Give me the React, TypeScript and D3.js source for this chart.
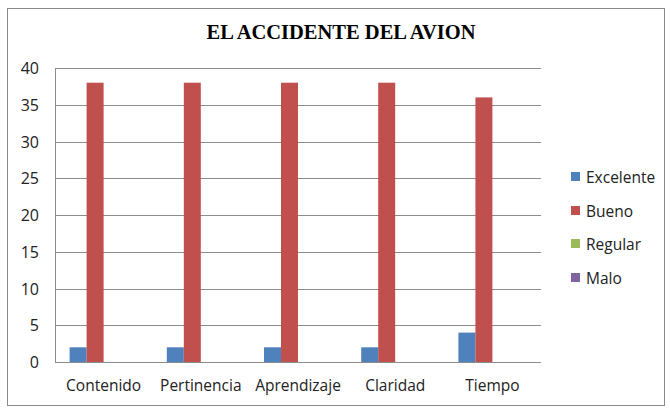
import React from "react";
import * as d3 from "d3";

const categories = ["Contenido", "Pertinencia", "Aprendizaje", "Claridad", "Tiempo"];
const seriesNames = ["Excelente", "Bueno", "Regular", "Malo"];
const excelente = [2, 2, 2, 2, 4];
const bueno = [38, 38, 38, 38, 36];
const regular = [0, 0, 0, 0, 0];
const malo = [0, 0, 0, 0, 0];
const yTicks = [0, 5, 10, 15, 20, 25, 30, 35, 40];
const colors = ["#4F81BD", "#C0504D", "#9BBB59", "#8064A2"];
const title = "EL ACCIDENTE DEL AVION";

export default function App() {
  const W = 670, H = 408;
  const left = 55, right = 541, top = 68, bottom = 362;
  const seriesValues = [excelente, bueno, regular, malo];
  const x0 = d3.scaleBand<string>().domain(categories).range([left, right]).paddingInner(0).paddingOuter(0);
  const bw = x0.bandwidth();
  const gap = (bw / 5.72) * 1.72;
  const x1 = d3.scaleBand<string>().domain(seriesNames).range([gap / 2, bw - gap / 2]);
  const y = d3.scaleLinear().domain([0, 40]).range([bottom, top]);
  const font = "'Open Sans', sans-serif";
  const legendY = [177, 211, 244, 278];

  return (
    <svg width={W} height={H} style={{ position: "absolute", left: 0, top: 0 }}>
      <rect x={0} y={0} width={W} height={H} fill="#fff" />
      <rect x={7.5} y={8.5} width={657} height={397} fill="none" stroke="#8a8a8a" strokeWidth={1} />
      <text x={341} y={39} textAnchor="middle" fontFamily="'Liberation Serif', 'DejaVu Serif', serif" fontWeight="bold" fontSize={20.5} fill="#000">{title}</text>
      {yTicks.map((t) => (
        <g key={t}>
          <line x1={left} x2={right} y1={Math.round(y(t)) + 0.5} y2={Math.round(y(t)) + 0.5} stroke="#8c8c8c" strokeWidth={1} />
          <text x={39} y={y(t) + 6} textAnchor="end" fontFamily={font} fontSize={16} fill="#222">{t}</text>
        </g>
      ))}
      <line x1={left + 0.5} x2={left + 0.5} y1={top} y2={bottom} stroke="#8c8c8c" strokeWidth={1} />
      {categories.map((c, i) => (
        <g key={c}>
          {seriesNames.map((s, j) => {
            const v = seriesValues[j][i];
            if (v <= 0) return null;
            return (
              <rect key={s} x={(x0(c) as number) + (x1(s) as number)} y={y(v)} width={x1.bandwidth()} height={bottom - y(v)} fill={colors[j]} />
            );
          })}
          <text x={(x0(c) as number) + bw / 2} y={391} textAnchor="middle" fontFamily={font} fontSize={15.5} fill="#222">{c}</text>
        </g>
      ))}
      {seriesNames.map((s, j) => (
        <g key={s}>
          <rect x={571} y={legendY[j] - 5} width={9} height={9} fill={colors[j]} />
          <text x={586} y={legendY[j] + 5.5} fontFamily={font} fontSize={15.5} fill="#222">{s}</text>
        </g>
      ))}
    </svg>
  );
}
